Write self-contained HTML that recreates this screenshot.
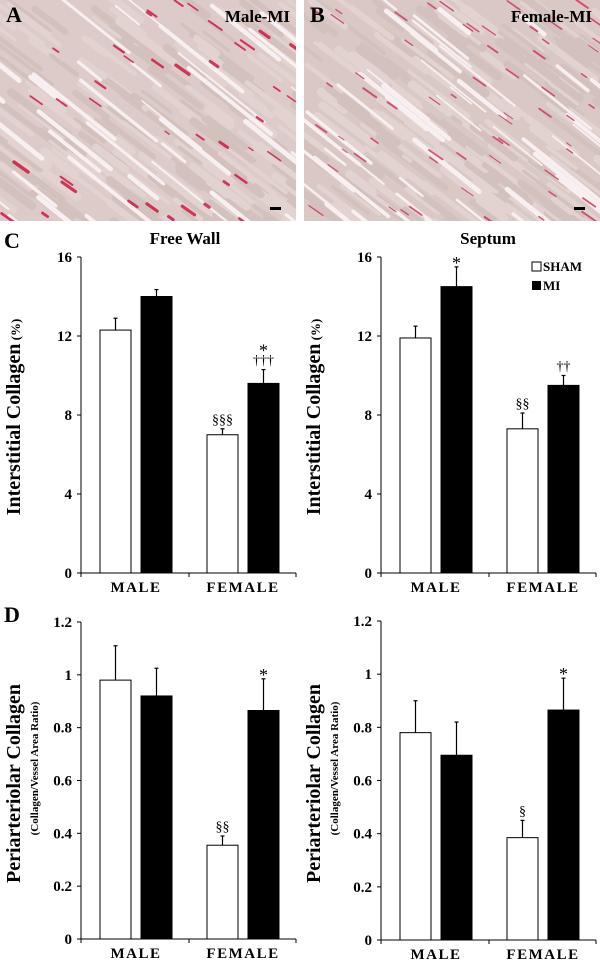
<!DOCTYPE html>
<html><head><meta charset="utf-8">
<style>
html,body{margin:0;padding:0;background:#fff;}
body{width:600px;height:980px;position:relative;overflow:hidden;font-family:"Liberation Serif",serif;}
svg{position:absolute;left:0;top:0;}
</style></head>
<body>
<svg id="fig" width="600" height="980" viewBox="0 0 600 980">
  <defs>
    <clipPath id="clipA"><rect x="0" y="0" width="296" height="221"/></clipPath>
    <clipPath id="clipB"><rect x="304" y="0" width="296" height="221"/></clipPath>
  </defs>
  <g id="micA" clip-path="url(#clipA)">
    <rect x="0" y="0" width="296" height="221" fill="#dccbc8"/>
  </g>
  <g id="micB" clip-path="url(#clipB)">
    <rect x="304" y="0" width="296" height="221" fill="#d9c8c4"/>
  </g>
  <text x="6" y="22" font-size="22" font-weight="bold">A</text>
  <text x="290" y="22" font-size="17" font-weight="bold" text-anchor="end">Male-MI</text>
  <text x="310" y="22" font-size="22" font-weight="bold">B</text>
  <text x="592" y="22" font-size="17" font-weight="bold" text-anchor="end">Female-MI</text>
  <rect x="270" y="207" width="11" height="3" fill="#000"/>
  <rect x="574" y="207" width="11" height="3" fill="#000"/>

  <text x="4" y="248" font-size="22" font-weight="bold">C</text>
  <text x="4" y="622" font-size="22" font-weight="bold">D</text>
  <text x="185" y="244" font-size="17" font-weight="bold" text-anchor="middle">Free Wall</text>
  <text x="488" y="244" font-size="17" font-weight="bold" text-anchor="middle">Septum</text>

  <g>
    <rect x="532" y="262" width="9" height="9" fill="#fff" stroke="#000" stroke-width="1"/>
    <text x="543" y="271" font-size="13" font-weight="bold">SHAM</text>
    <rect x="532" y="281" width="9" height="9" fill="#000"/>
    <text x="543" y="290" font-size="13" font-weight="bold">MI</text>
  </g>
  <g id="charts"></g>
</svg>
<script>
// ---- chart data ----
const categories = ["MALE", "FEMALE"];
const seriesNames = ["SHAM", "MI"];
const cLeftValues = [12.3, 14.0, 7.0, 9.6];
const cLeftErrors = [0.6, 0.35, 0.3, 0.7];
const cLeftMarks = ["", "", "§§§", "*|†††"];
const cRightValues = [11.9, 14.5, 7.3, 9.5];
const cRightErrors = [0.6, 1.0, 0.8, 0.5];
const cRightMarks = ["", "*", "§§", "††"];
const dLeftValues = [0.98, 0.92, 0.355, 0.865];
const dLeftErrors = [0.13, 0.105, 0.035, 0.12];
const dLeftMarks = ["", "", "§§", "*"];
const dRightValues = [0.78, 0.695, 0.385, 0.865];
const dRightErrors = [0.12, 0.125, 0.065, 0.12];
const dRightMarks = ["", "", "§", "*"];
const cTicks = [0, 4, 8, 12, 16];
const dTicks = [0, 0.2, 0.4, 0.6, 0.8, 1, 1.2];

const NS = "http://www.w3.org/2000/svg";
function mk(tag, attrs, parent) {
  const e = document.createElementNS(NS, tag);
  for (const k in attrs) e.setAttribute(k, attrs[k]);
  parent.appendChild(e);
  return e;
}

// ---- decorative micrograph texture ----
let seed = 7;
function rnd() { seed = (seed * 16807) % 2147483647; return seed / 2147483647; }
function texture(g, x0, red, whiteCount, redCount, redW) {
  for (let i = 0; i < 200; i++) {
    const x = x0 + rnd() * 320 - 20, y = rnd() * 240 - 10;
    const l = 20 + rnd() * 40;
    mk("line", {x1: x, y1: y, x2: x + l, y2: y + l * 0.75, stroke: rnd() < 0.5 ? "#e2d3d0" : "#d3c1bd", "stroke-width": 3 + rnd() * 6, "stroke-linecap": "round"}, g);
  }
  for (let i = 0; i < whiteCount; i++) {
    const x = x0 + rnd() * 340 - 40, y = rnd() * 260 - 20;
    const l = 20 + rnd() * 70;
    mk("line", {x1: x, y1: y, x2: x + l, y2: y + l * 0.8, stroke: "#f8f0f0", "stroke-width": 1.5 + rnd() * 3.5, "stroke-linecap": "round"}, g);
  }
  for (let i = 0; i < redCount; i++) {
    const x = x0 + rnd() * 296, y = rnd() * 221;
    const l = 4 + rnd() * 10;
    mk("line", {x1: x, y1: y, x2: x + l, y2: y + l * 0.7, stroke: red, "stroke-width": 1 + rnd() * redW, "stroke-linecap": "round", opacity: 0.85}, g);
  }
}
texture(document.getElementById("micA"), 0, "#d01a44", 40, 40, 2.5);
texture(document.getElementById("micB"), 304, "#cf3a62", 55, 60, 1.2);

// ---- bar chart ----
function chart(opts) {
  const g = mk("g", {}, document.getElementById("charts"));
  
  
  const ax = opts.ax, top = opts.top, bot = opts.bot, right = ax + 215;
  const max = opts.ticks[opts.ticks.length - 1];
  const y = v => bot - (v / max) * (bot - top);
  const xCat = i => ax + 19 + i * 107;
  const barX = (c, s) => xCat(c) + s * 41;
  const ya = mk("line", {x1: ax, y1: top, x2: ax, y2: bot, stroke: "#000", "stroke-width": 1}, g);
  
  
  const xa = mk("line", {x1: ax - 4, y1: bot, x2: right, y2: bot, stroke: "#000", "stroke-width": 1}, g);
  
  
  [ax, ax + 108, right].forEach(tx => {
    mk("line", {x1: tx, y1: bot, x2: tx, y2: bot + 4, stroke: "#000"}, g);
  });
  opts.ticks.forEach(t => {
    mk("line", {x1: ax - 4, y1: y(t), x2: ax, y2: y(t), stroke: "#000"}, g);
    const tl = mk("text", {x: ax - 9, y: y(t) + 5, "font-size": 15, "font-weight": "bold", "text-anchor": "end"}, g);
    
    
    tl.textContent = String(t);
  });
  categories.forEach((c, i) => {
    const t = mk("text", {x: xCat(i) + 36, y: bot + 19, "font-size": 15, "font-weight": "bold", "text-anchor": "middle", "letter-spacing": "1.5"}, g);
    
    
    t.textContent = c;
  });
  opts.values.forEach((v, k) => {
    const c = Math.floor(k / 2), s = k % 2;
    const bx = barX(c, s), bw = 31;
    const e = opts.errors[k];
    const el = mk("line", {x1: bx + bw / 2, y1: y(v), x2: bx + bw / 2, y2: y(v + e), stroke: "#000", "stroke-width": 1.2}, g);
    
    
    mk("line", {x1: bx + bw / 2 - 2, y1: y(v + e), x2: bx + bw / 2 + 2, y2: y(v + e), stroke: "#000", "stroke-width": 1.2}, g);
    const r = mk("rect", {x: bx, y: y(v), width: bw, height: bot - y(v), fill: s ? "#000" : "#fff", stroke: "#000", "stroke-width": 1}, g);
    
    
    const marks = opts.marks[k] ? opts.marks[k].split("|") : [];
    marks.reverse().forEach((m, j) => {
      const mt = mk("text", {x: bx + bw / 2, y: y(v + e) - 5 - j * 15 + (m === "*" ? 7 : 0), "font-size": m === "*" ? 18 : 14, "text-anchor": "middle"}, g);
      
      
      mt.textContent = m;
    });
  });
  const cy = (top + bot) / 2;
  const yt = mk("text", {x: 0, y: 0, "font-size": 20, "font-weight": "bold", "text-anchor": "middle", transform: `translate(${ax - 61},${cy + 2}) rotate(-90)`}, g);
  
  
  yt.textContent = opts.title;
  if (opts.unit) {
    const ts = mk("tspan", {"font-size": 13}, yt);
    ts.textContent = " (%)";
  }
  if (opts.sub) {
    yt.setAttribute("transform", `translate(${ax - 61},${cy + 3}) rotate(-90)`);
    const st = mk("text", {x: 0, y: 0, "font-size": 11, "font-weight": "bold", "text-anchor": "middle", transform: `translate(${ax - 43},${cy - 12}) rotate(-90)`}, g);
    
    
    st.textContent = opts.sub;
  }
}
chart({name: "chart-c-free-wall", ax: 81, top: 257, bot: 573, ticks: cTicks, values: cLeftValues, errors: cLeftErrors, marks: cLeftMarks, title: "Interstitial Collagen", unit: true});
chart({name: "chart-c-septum", ax: 381, top: 257, bot: 573, ticks: cTicks, values: cRightValues, errors: cRightErrors, marks: cRightMarks, title: "Interstitial Collagen", unit: true});
chart({name: "chart-d-free-wall", ax: 81, top: 622, bot: 939, ticks: dTicks, values: dLeftValues, errors: dLeftErrors, marks: dLeftMarks, title: "Periarteriolar Collagen", sub: "(Collagen/Vessel Area Ratio)"});
chart({name: "chart-d-septum", ax: 381, top: 621, bot: 940, ticks: dTicks, values: dRightValues, errors: dRightErrors, marks: dRightMarks, title: "Periarteriolar Collagen", sub: "(Collagen/Vessel Area Ratio)"});
</script>
</body></html>
